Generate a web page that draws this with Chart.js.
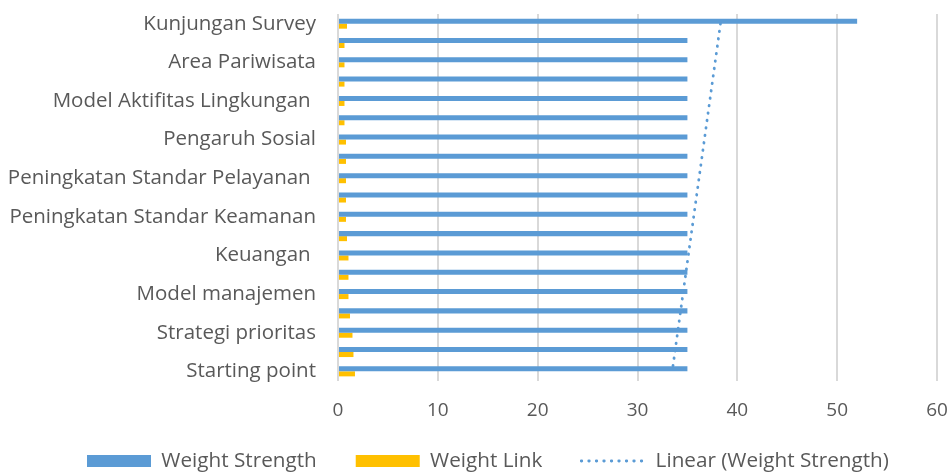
<!DOCTYPE html>
<html>
<head>
<meta charset="utf-8">
<script src="https://cdn.jsdelivr.net/npm/chart.js@4.4.0/dist/chart.umd.min.js"></script>
<style>
  html, body { margin: 0; padding: 0; background: #ffffff; }
  canvas { display: block; }
</style>
</head>
<body>
<canvas id="chart" width="951" height="472"></canvas>
<script>
// ---- Data (top to bottom, as shown) ----
const categories = [
  'Kunjungan Survey', '',
  'Area Pariwisata', '',
  'Model Aktifitas Lingkungan ', '',
  'Pengaruh Sosial', '',
  'Peningkatan Standar Pelayanan ', '',
  'Peningkatan Standar Keamanan', '',
  'Keuangan ', '',
  'Model manajemen', '',
  'Strategi prioritas', '',
  'Starting point'
];
const weightStrength = [52, 35, 35, 35, 35, 35, 35, 35, 35, 35, 35, 35, 35, 35, 35, 35, 35, 35, 35];
const weightLink = [0.9, 0.65, 0.65, 0.65, 0.65, 0.65, 0.8, 0.8, 0.8, 0.8, 0.8, 0.9, 1.05, 1.05, 1.05, 1.2, 1.45, 1.55, 1.7];
const xTickValues = [0, 10, 20, 30, 40, 50, 60];
const seriesNames = ['Weight Strength', 'Weight Link', 'Linear (Weight Strength)'];

// Linear trendline (least squares) of Weight Strength over category index
function linearTrend(values) {
  const n = values.length;
  const xs = values.map((_, i) => i);
  const mx = xs.reduce((a, b) => a + b, 0) / n;
  const my = values.reduce((a, b) => a + b, 0) / n;
  let sxy = 0, sxx = 0;
  for (let i = 0; i < n; i++) { sxy += (xs[i] - mx) * (values[i] - my); sxx += (xs[i] - mx) ** 2; }
  const slope = sxy / sxx;
  return xs.map(x => my + slope * (x - mx));
}
const trend = linearTrend(weightStrength);

const BLUE = '#5B9BD5';
const GOLD = '#FFC000';
const TEXT = '#595959';
const TREND_DASH = [0.5, 7];

Chart.defaults.font.family = "'Open Sans', 'Liberation Sans', sans-serif";
Chart.defaults.color = TEXT;

// place the bottom legend like the reference (row starts at x=87, text centre y≈461)
const legendPlacer = {
  id: 'legendPlacer',
  afterLayout(chart) {
    const lg = chart.legend;
    if (!lg) return;
    const P = lg.options.labels.padding;
    const itemH = lg.options.labels.font.size;
    lg.top = 461 - itemH / 2 - P;
    lg.bottom = chart.height;
    lg.height = lg.bottom - lg.top;
    lg.left = 87 - P;
    lg.right = chart.width + 400;
    lg.width = lg.right - lg.left;
  }
};

new Chart(document.getElementById('chart'), {
  type: 'bar',
  data: {
    labels: categories,
    datasets: [
      {
        label: seriesNames[0],
        data: weightStrength,
        backgroundColor: BLUE,
        borderWidth: 0,
        pointStyle: 'rect',
        categoryPercentage: 0.52,
        barPercentage: 1.0,
        order: 1
      },
      {
        label: seriesNames[1],
        data: weightLink,
        backgroundColor: GOLD,
        borderWidth: 0,
        pointStyle: 'rect',
        categoryPercentage: 0.52,
        barPercentage: 1.0,
        order: 1
      },
      {
        type: 'line',
        indexAxis: 'y',
        label: seriesNames[2],
        data: trend,
        borderColor: BLUE,
        backgroundColor: BLUE,
        borderWidth: 2.8,
        borderDash: TREND_DASH,
        borderCapStyle: 'round',
        pointRadius: 0,
        pointStyle: 'line',
        fill: false,
        order: 0
      }
    ]
  },
  options: {
    indexAxis: 'y',
    responsive: false,
    animation: false,
    layout: { padding: { top: 14, left: 0, right: 14, bottom: 0 } },
    scales: {
      x: {
        type: 'linear',
        min: xTickValues[0],
        max: xTickValues[xTickValues.length - 1],
        afterBuildTicks: (scale) => { scale.ticks = xTickValues.map(v => ({ value: v })); },
        ticks: { color: TEXT, font: { size: 19 }, padding: 18 },
        grid: { color: '#d9d9d9', lineWidth: 2, drawTicks: false },
        border: { display: false },
        afterFit: (scale) => { scale.height = 50; scale.paddingLeft = 0; scale.paddingRight = 0; }
      },
      y: {
        type: 'category',
        ticks: { autoSkip: false, color: TEXT, font: { size: 20.5 }, padding: 22 },
        grid: { display: false, drawTicks: false },
        border: { display: false },
        afterFit: (scale) => { scale.width = 338; scale.paddingTop = 0; scale.paddingBottom = 0; }
      }
    },
    plugins: {
      legend: {
        position: 'bottom',
        align: 'start',
        maxHeight: 41,
        labels: {
          usePointStyle: true,
          pointStyleWidth: 64,
          boxHeight: 12,
          padding: 39,
          color: TEXT,
          font: { size: 20.7 },
          sort: (a, b) => a.datasetIndex - b.datasetIndex,
          generateLabels: (chart) => {
            const items = Chart.defaults.plugins.legend.labels.generateLabels(chart);
            items.forEach(it => {
              if (it.datasetIndex === 2) {
                it.lineDash = TREND_DASH;
                it.lineWidth = 2.8;
                it.lineCap = 'round';
                it.strokeStyle = BLUE;
                it.fillStyle = 'rgba(0,0,0,0)';
              } else {
                it.lineWidth = 0;
              }
            });
            return items;
          }
        }
      },
      tooltip: { enabled: false }
    }
  },
  plugins: [legendPlacer]
});
</script>
</body>
</html>
